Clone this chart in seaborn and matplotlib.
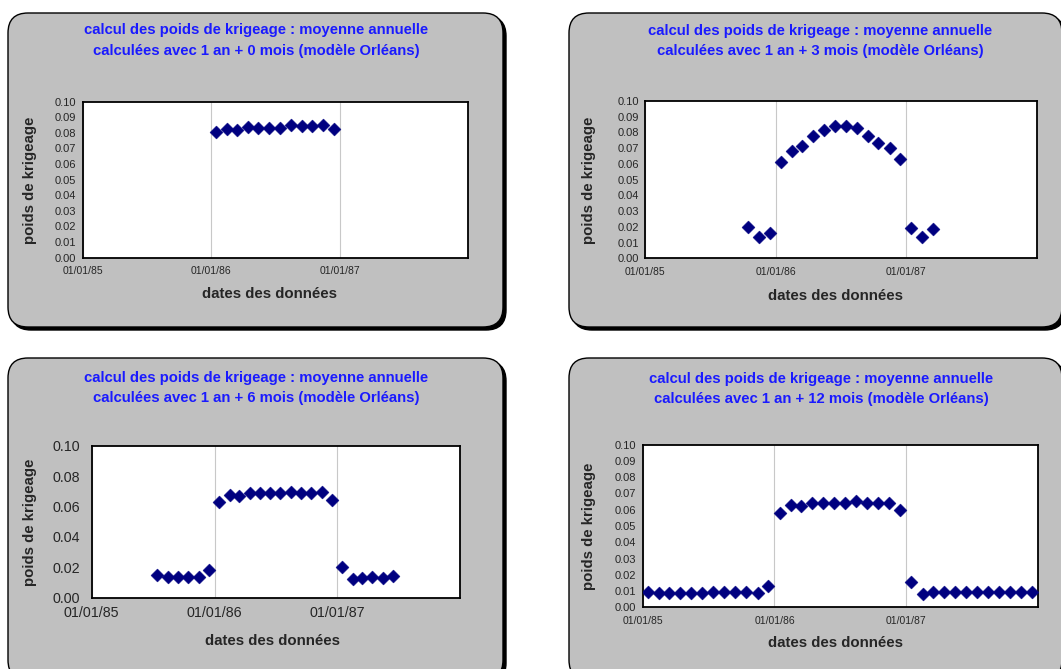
import matplotlib
matplotlib.use("Agg")
import matplotlib.pyplot as plt
import matplotlib.dates as mdates
from matplotlib.patches import FancyBboxPatch
import numpy as np
import pandas as pd
import seaborn as sns

# monthly dates (middle of month), Jan 85 -> Dec 87
dates = ["1985-01-15", "1985-02-15", "1985-03-15", "1985-04-15", "1985-05-15", "1985-06-15",
         "1985-07-15", "1985-08-15", "1985-09-15", "1985-10-15", "1985-11-15", "1985-12-15",
         "1986-01-15", "1986-02-15", "1986-03-15", "1986-04-15", "1986-05-15", "1986-06-15",
         "1986-07-15", "1986-08-15", "1986-09-15", "1986-10-15", "1986-11-15", "1986-12-15",
         "1987-01-15", "1987-02-15", "1987-03-15", "1987-04-15", "1987-05-15", "1987-06-15",
         "1987-07-15", "1987-08-15", "1987-09-15", "1987-10-15", "1987-11-15", "1987-12-15"]

# kriging weights, one list per window (first month index into dates)
w_0 = [0.0808, 0.0825, 0.0816, 0.0838, 0.0831, 0.0831, 0.0829, 0.0848, 0.0842, 0.0846, 0.0853, 0.0825]
start_0 = 12
w_3 = [0.0197, 0.0138, 0.0159,
       0.0614, 0.0680, 0.0716, 0.0780, 0.0816, 0.0841, 0.0841, 0.0828, 0.0780, 0.0735, 0.0701, 0.0631,
       0.0193, 0.0133, 0.0189]
start_3 = 9
w_6 = [0.0147, 0.0138, 0.0138, 0.0138, 0.0134, 0.0180,
       0.0629, 0.0673, 0.0667, 0.0686, 0.0686, 0.0686, 0.0686, 0.0695, 0.0686, 0.0686, 0.0693, 0.0645,
       0.0204, 0.0125, 0.0132, 0.0136, 0.0132, 0.0145]
start_6 = 6
w_12 = [0.0096, 0.0086, 0.0086, 0.0090, 0.0090, 0.0090, 0.0092, 0.0092, 0.0092, 0.0092, 0.0090, 0.0131,
        0.0582, 0.0629, 0.0623, 0.0643, 0.0643, 0.0643, 0.0643, 0.0654, 0.0643, 0.0643, 0.0643, 0.0598,
        0.0158, 0.0082, 0.0092, 0.0092, 0.0092, 0.0092, 0.0092, 0.0092, 0.0092, 0.0092, 0.0092, 0.0096]
start_12 = 0

months_extra = ["0", "3", "6", "12"]
tick_dates = ["1985-01-01", "1986-01-01", "1987-01-01"]
tick_labels = ["01/01/85", "01/01/86", "01/01/87"]

sns.set_style("white")
plt.rcParams['font.family'] = ['Liberation Sans', 'DejaVu Sans']

W, H = 1061, 669
fig = plt.figure(figsize=(W / 100, H / 100), dpi=100)

# background in pixel coordinates
bg = fig.add_axes([0, 0, 1, 1], zorder=-10)
bg.set_xlim(0, W)
bg.set_ylim(H, 0)
bg.axis("off")

boxes = [(8, 13, 503, 327), (569, 13, 1062, 327), (8, 358, 503, 680), (569, 358, 1062, 680)]
for x0, y0, x1, y1 in boxes:
    sh = FancyBboxPatch((x0 + 3, y0 + 3), x1 - x0, y1 - y0, boxstyle="round,pad=0,rounding_size=20",
                        fc="black", ec="black", lw=1)
    bg.add_patch(sh)
    p = FancyBboxPatch((x0, y0), x1 - x0, y1 - y0, boxstyle="round,pad=0,rounding_size=20",
                       fc="#c0c0c0", ec="black", lw=1)
    bg.add_patch(p)

panels = [
    dict(w=w_0, start=start_0, rect=(82.7, 101.7, 468, 257.7), title=(256, 40.5), xl=(270, 294), yl=(30, 180),
         step=0.01, fsx=7.5, fsy=8, pad=2),
    dict(w=w_3, start=start_3, rect=(645, 101, 1036.7, 258.3), title=(820, 41), xl=(835, 296), yl=(589, 180),
         step=0.01, fsx=7.5, fsy=8, pad=2),
    dict(w=w_6, start=start_6, rect=(91.7, 445.7, 460, 597.7), title=(256, 388), xl=(272, 641), yl=(30, 522),
         step=0.02, fsx=10.3, fsy=10.3, pad=6),
    dict(w=w_12, start=start_12, rect=(642.7, 444.7, 1037.7, 607.3), title=(821, 389), xl=(836, 643), yl=(589, 526),
         step=0.01, fsx=7.5, fsy=8, pad=2),
]

for cfg, extra in zip(panels, months_extra):
    l, t, r, b = cfg["rect"]
    ax = fig.add_axes([l / W, 1 - b / H, (r - l) / W, (b - t) / H])
    ax.set_facecolor("white")
    df = pd.DataFrame({"date": pd.to_datetime(dates[cfg["start"]:cfg["start"] + len(cfg["w"])]),
                       "poids": cfg["w"]})
    sns.scatterplot(data=df, x="date", y="poids", ax=ax, marker="D", s=44,
                    color="#000080", edgecolor="#000080", linewidth=0.3, zorder=3)
    ax.set_xlim(mdates.datestr2num("1985-01-01"), mdates.datestr2num("1987-12-31"))
    ax.set_ylim(0, 0.10)
    ax.set_xticks(mdates.datestr2num(tick_dates))
    ax.set_xticklabels(tick_labels, fontsize=cfg["fsx"])
    yt = np.arange(0, 0.1001, cfg["step"])
    ax.set_yticks(yt)
    ax.set_yticklabels([f"{v:.2f}" for v in yt], fontsize=cfg["fsy"])
    ax.grid(axis="x", color="#c8c8c8", lw=0.8)
    ax.grid(axis="y", visible=False)
    for s in ax.spines.values():
        s.set_color("black")
        s.set_linewidth(1.3)
    ax.tick_params(axis="y", direction="inout", length=5, width=0.8, color="black", pad=cfg["pad"])
    ax.tick_params(axis="x", direction="out", length=3, width=0.8, color="black", pad=3)

    ax.set_xlabel("dates des données", fontsize=10.8, fontweight="bold")
    ax.set_ylabel("poids de krigeage", fontsize=10.8, fontweight="bold")
    ax.xaxis.set_label_coords((cfg["xl"][0] - l) / (r - l), (b - cfg["xl"][1]) / (b - t))
    ax.xaxis.label.set_va("center")
    ax.yaxis.set_label_coords((cfg["yl"][0] - l) / (r - l), (b - cfg["yl"][1]) / (b - t))
    ax.yaxis.label.set_va("center")

    bg.text(cfg["title"][0], cfg["title"][1],
            "calcul des poids de krigeage : moyenne annuelle\n"
            f"calculées avec 1 an + {extra} mois (modèle Orléans)",
            ha="center", va="center", color="#1a1aff", fontsize=10.7, fontweight="bold", linespacing=1.6)

fig.savefig("out.png", dpi=100)
